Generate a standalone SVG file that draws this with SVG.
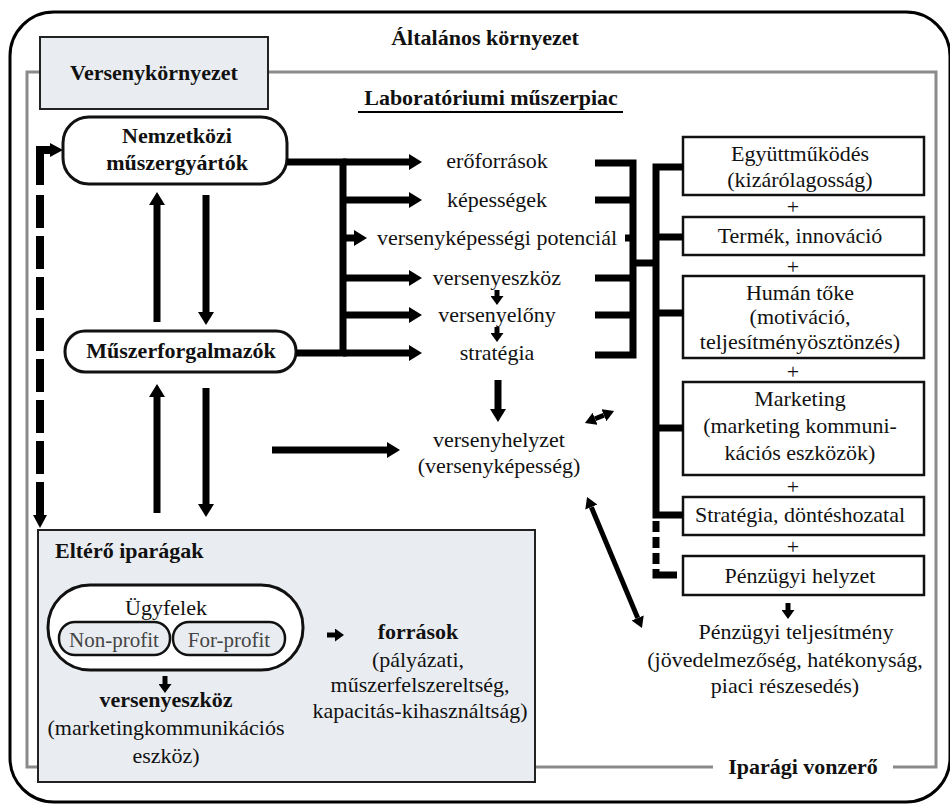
<svg xmlns="http://www.w3.org/2000/svg" width="950" height="804" viewBox="0 0 950 804" font-family="Liberation Serif, DejaVu Serif, serif">
  <style>
    .t { font-family: Liberation Serif, "DejaVu Serif", serif; font-size: 22px; fill: #111; text-anchor: middle; }
    .b { font-weight: bold; }
    .l { text-anchor: start; }
    .g { fill: #444; font-size: 21px; }
    .box { fill: #fff; stroke: #111; stroke-width: 2.5; }
    .shade { fill: #e9edf1; stroke: #222; stroke-width: 2; }
    .pill { fill: #fff; stroke: #111; stroke-width: 3; }
    .frame { fill: none; stroke: #8a8a8a; stroke-width: 3; }
    .c { fill: none; stroke: #000; stroke-width: 7; }
    .cs { fill: none; stroke: #000; stroke-width: 5; }
    .a { marker-end: url(#ah); }
    .as { marker-end: url(#ahs); }
    .ab { marker-start: url(#ahb); marker-end: url(#ahb); }
  </style>
  <defs>
    <marker id="ah" markerUnits="userSpaceOnUse" viewBox="0 0 13 16" markerWidth="13" markerHeight="16" refX="0" refY="8" orient="auto">
      <path d="M0,0L13,8L0,16z" fill="#000"/>
    </marker>
    <marker id="ahs" markerUnits="userSpaceOnUse" viewBox="0 0 9 13" markerWidth="9" markerHeight="13" refX="0" refY="6.5" orient="auto">
      <path d="M0,0L9,6.5L0,13z" fill="#000"/>
    </marker>
    <marker id="ahb" markerUnits="userSpaceOnUse" viewBox="0 0 11 13" markerWidth="11" markerHeight="13" refX="0" refY="6.5" orient="auto-start-reverse">
      <path d="M0,0L11,6.5L0,13z" fill="#000"/>
    </marker>
  </defs>

  <rect width="950" height="804" fill="#fff"/>

  <!-- general environment (outer frame) -->
  <g id="altalanos-kornyezet">
    <rect x="10" y="12" width="940" height="790" rx="44" fill="none" stroke="#000" stroke-width="3"/>
    <text class="t b" x="485" y="45">Általános környezet</text>
  </g>

  <!-- competitive environment (grey frame) -->
  <g id="versenykornyezet">
    <path class="frame" d="M713,767 H27 V72 H936 V767 H893"/>
    <rect class="shade" x="40" y="37" width="228" height="72"/>
    <text class="t b" x="154" y="80">Versenykörnyezet</text>
    <text class="t b" x="803" y="774">Iparági vonzerő</text>
  </g>

  <g id="piac-cim">
    <text class="t b" x="491" y="105">Laboratóriumi műszerpiac</text>
    <line x1="358" y1="112" x2="623" y2="112" stroke="#000" stroke-width="2"/>
  </g>

  <g id="nemzetkozi">
    <rect class="pill" x="63" y="117" width="224" height="67" rx="26"/>
    <text class="t b" x="177" y="143">Nemzetközi</text>
    <text class="t b" x="177" y="170">műszergyártók</text>
  </g>

  <g id="muszerforgalmazok">
    <rect class="pill" x="65" y="331" width="231" height="41" rx="20"/>
    <text class="t b" x="181" y="358">Műszerforgalmazók</text>
  </g>

  <!-- middle column -->
  <g id="kozep">
    <text class="t" x="497" y="168">erőforrások</text>
    <text class="t" x="497" y="207">képességek</text>
    <text class="t" x="497" y="245">versenyképességi potenciál</text>
    <text class="t" x="497" y="285">versenyeszköz</text>
    <text class="t" x="497" y="322">versenyelőny</text>
    <text class="t" x="497" y="360">stratégia</text>
    <text class="t" x="499" y="447">versenyhelyzet</text>
    <text class="t" x="499" y="473">(versenyképesség)</text>
  </g>

  <!-- success factors -->
  <g id="egyuttmukodes">
    <rect class="box" x="683" y="137" width="241" height="58"/>
    <text class="t" x="800" y="161">Együttműködés</text>
    <text class="t" x="800" y="187">(kizárólagosság)</text>
  </g>
  <g id="termek">
    <rect class="box" x="683" y="217" width="241" height="38"/>
    <text class="t" x="800" y="243">Termék, innováció</text>
  </g>
  <g id="human">
    <rect class="box" x="683" y="276" width="241" height="82"/>
    <text class="t" x="800" y="300">Humán tőke</text>
    <text class="t" x="800" y="324">(motiváció,</text>
    <text class="t" x="800" y="349">teljesítményösztönzés)</text>
  </g>
  <g id="marketing">
    <rect class="box" x="683" y="382" width="241" height="93"/>
    <text class="t" x="800" y="406">Marketing</text>
    <text class="t" x="800" y="433">(marketing kommuni-</text>
    <text class="t" x="800" y="460">kációs eszközök)</text>
  </g>
  <g id="strategia-dontes">
    <rect class="box" x="683" y="497" width="241" height="38"/>
    <text class="t" x="800" y="522">Stratégia, döntéshozatal</text>
  </g>
  <g id="penzugyi-helyzet">
    <rect class="box" x="683" y="556" width="241" height="39"/>
    <text class="t" x="800" y="583">Pénzügyi helyzet</text>
  </g>
  <g id="pluszok">
    <text class="t" x="793" y="214">+</text>
    <text class="t" x="793" y="274">+</text>
    <text class="t" x="793" y="379">+</text>
    <text class="t" x="793" y="494">+</text>
    <text class="t" x="793" y="554">+</text>
  </g>

  <g id="penzugyi-teljesitmeny">
    <text class="t" x="796" y="639">Pénzügyi teljesítmény</text>
    <text class="t" x="785" y="667">(jövedelmezőség, hatékonyság,</text>
    <text class="t" x="785" y="693">piaci részesedés)</text>
  </g>

  <!-- other industries -->
  <g id="eltero-iparagak">
    <rect class="shade" x="38" y="530" width="497" height="252"/>
    <text class="t b l" x="55" y="558">Eltérő iparágak</text>
    <rect class="pill" x="48" y="585" width="255" height="85" rx="42"/>
    <text class="t" x="166" y="615">Ügyfelek</text>
    <rect x="59" y="622" width="111" height="33" rx="16" fill="#e9edf1" stroke="#111" stroke-width="2.5"/>
    <rect x="173" y="622" width="112" height="33" rx="16" fill="#e9edf1" stroke="#111" stroke-width="2.5"/>
    <text class="t g" x="114" y="647">Non-profit</text>
    <text class="t g" x="229" y="647">For-profit</text>
    <text class="t b" x="166" y="707">versenyeszköz</text>
    <text class="t" x="166" y="735">(marketingkommunikációs</text>
    <text class="t" x="166" y="763">eszköz)</text>
    <text class="t b" x="418" y="639">források</text>
    <text class="t" x="418" y="667">(pályázati,</text>
    <text class="t" x="420" y="692">műszerfelszereltség,</text>
    <text class="t" x="420" y="718">kapacitás-kihasználtság)</text>
  </g>

  <!-- connectors -->
  <g id="connectors">
    <!-- dashed feedback line on the left -->
    <path d="M50,150 H40 V185" fill="none" stroke="#000" stroke-width="8"/>
    <polygon points="50,143 63,150 50,157" fill="#000"/>
    <line x1="40" y1="195" x2="40" y2="516" stroke="#000" stroke-width="8" stroke-dasharray="33 8"/>
    <polygon points="33,515 47,515 40,528" fill="#000"/>

    <!-- between firms and distributors -->
    <line class="c a" x1="157" y1="322" x2="157" y2="205"/>
    <line class="c a" x1="206" y1="195" x2="206" y2="312"/>
    <line class="c a" x1="157" y1="513" x2="157" y2="397"/>
    <line class="c a" x1="206" y1="388" x2="206" y2="504"/>

    <!-- left bracket feeding the middle column -->
    <path class="c" d="M287,162 H343 V353 H296"/>
    <line class="c a" x1="343" y1="162" x2="409" y2="162"/>
    <line class="c a" x1="343" y1="200" x2="409" y2="200"/>
    <line class="c a" x1="343" y1="238" x2="354" y2="238"/>
    <line class="c a" x1="343" y1="278" x2="409" y2="278"/>
    <line class="c a" x1="343" y1="315" x2="409" y2="315"/>
    <line class="c a" x1="343" y1="353" x2="409" y2="353"/>

    <!-- small steps in the middle column -->
    <line class="cs as" x1="497" y1="290" x2="497" y2="296"/>
    <line class="cs as" x1="497" y1="327" x2="497" y2="333"/>
    <line class="c a" x1="498" y1="380" x2="498" y2="409"/>
    <line class="c a" x1="272" y1="450" x2="387" y2="450"/>

    <!-- right bracket to the success factors -->
    <path class="c" d="M595,163 H633 V355 H595"/>
    <line class="c" x1="595" y1="200" x2="633" y2="200"/>
    <line class="c" x1="625" y1="238" x2="633" y2="238"/>
    <line class="c" x1="595" y1="278" x2="633" y2="278"/>
    <line class="c" x1="595" y1="315" x2="633" y2="315"/>
    <line class="c" x1="633" y1="263" x2="656" y2="263"/>
    <path class="c" d="M683,167 H656 V515 H683"/>
    <line class="c" x1="656" y1="237" x2="683" y2="237"/>
    <line class="c" x1="656" y1="313" x2="683" y2="313"/>
    <line class="c" x1="656" y1="428" x2="683" y2="428"/>
    <line class="c" x1="656" y1="521" x2="656" y2="571" stroke-dasharray="11 5"/>
    <path class="c" d="M656,571 V575 H677"/>

    <!-- two-way links -->
    <line class="cs ab" x1="595.1" y1="418.8" x2="603.9" y2="415.2"/>
    <line class="cs ab" x1="591.3" y1="507.1" x2="637.7" y2="617.9"/>

    <!-- arrows inside other industries and to financial performance -->
    <line class="cs as" x1="165" y1="676" x2="165" y2="684"/>
    <line class="cs as" x1="327" y1="635" x2="335" y2="635"/>
    <line class="cs as" x1="788" y1="603" x2="788" y2="610"/>
  </g>
</svg>
